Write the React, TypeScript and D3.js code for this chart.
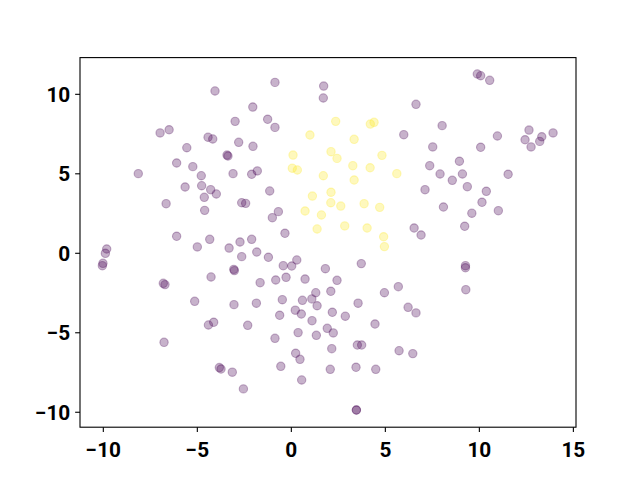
import React from 'react';
import { scaleLinear } from 'd3';

const svgWidth = 640;
const svgHeight = 480;

const margin = { left: 80, right: 64, top: 57.6, bottom: 52.8 };
const innerWidth = svgWidth - margin.left - margin.right;
const innerHeight = svgHeight - margin.top - margin.bottom;

// cluster 0 (purple)
const groupAX = [
  -4.06, -2.05, -2.99, -6.98, -6.5, -4.43, -4.18, -2.8, -2.04, -5.56, -3.42, -3.37, -6.1, -5.24, -8.14,
  -3.1, -2.11, -1.81, -4.79, -5.65, -4.77, -4.29, -3.99, -4.63, -6.66, -4.61, -2.64, -2.43, -6.1, -4.34,
  -2.73, -5.0, -3.31, -2.11, -0.87, 1.72, 1.7, -1.26, -0.87, 6.63, 5.98, -1.15, -0.69, -1.01, -0.34,
  6.53, 9.89, 10.07, 10.55, 8.02, 10.96, 12.64, 12.43, 12.75, 13.32, 13.21, 13.92, 7.52, 10.07, 8.94,
  7.36, 7.91, 9.1, 8.56, 11.53, 9.36, 7.11, 10.37, 10.14, 8.09, 9.6, 11.01, 9.22, 6.9, -9.82, -9.89,
  -10.02, -10.05, -2.64, -6.81, -6.72, -4.27, -3.06, -3.03, -5.14, -3.05, -4.41, -4.13, -2.32, -6.77,
  -3.83, -3.74, -3.14, -2.55, -1.84, -1.22, -0.43, 0.02, 0.29, 1.81, 3.72, -1.66, -0.83, -0.28, 0.73,
  2.43, 1.3, 2.1, 4.95, 5.69, -1.86, -0.48, 0.59, 1.09, 1.37, 3.55, 6.21, 6.63, -0.62, 0.21, 0.53, 2.18,
  2.87, 1.1, 4.45, 0.36, 1.33, 1.91, 2.23, -0.87, 2.15, 3.51, 3.74, 5.73, 6.46, 0.23, 0.46, -0.56, 2.07,
  3.44, 4.49, 0.55, 3.46, 3.46, 9.26, 9.26, 9.28,
];
const groupAY = [
  10.21, 9.2, 8.3, 7.57, 7.77, 7.3, 7.19, 6.98, 6.73, 6.64, 6.18, 6.12, 5.68, 5.45, 5.01, 5.01, 4.97,
  5.18, 4.88, 4.17, 4.25, 4.0, 3.73, 3.52, 3.12, 2.7, 3.18, 3.14, 1.07, 0.88, 0.71, 0.4, 0.33, 0.88,
  10.75, 10.52, 9.77, 8.43, 7.92, 9.37, 7.46, 3.92, 2.62, 2.24, 1.26, 1.59, 11.28, 11.17, 10.88, 8.03,
  7.38, 7.75, 7.14, 6.69, 7.33, 7.04, 7.57, 6.69, 6.67, 5.79, 5.51, 4.99, 4.99, 4.59, 4.97, 4.19, 4.0,
  3.9, 3.21, 2.91, 2.52, 2.68, 1.7, 1.15, 0.27, 0.0, -0.63, -0.78, -0.21, -1.89, -1.97, -1.49, -1.01,
  -1.09, -3.02, -3.23, -4.51, -4.34, -4.53, -5.6, -7.19, -7.28, -7.48, -8.53, 0.08, -0.25, -0.78, -0.8,
  -0.42, -0.97, -0.65, -1.85, -1.68, -1.51, -1.62, -1.7, -2.48, -2.39, -2.48, -2.1, -3.14, -2.92, -2.96,
  -2.87, -3.3, -3.14, -3.4, -3.75, -3.9, -3.58, -3.82, -3.71, -3.96, -4.24, -4.45, -4.99, -5.16, -4.72,
  -5.01, -5.35, -6.0, -5.77, -5.77, -6.13, -6.31, -6.29, -6.67, -7.11, -7.3, -7.17, -7.3, -7.97, -9.86,
  -9.86, -0.78, -0.91, -2.29,
];

// cluster 1 (yellow)
const groupBX = [
  2.36, 4.2, 4.4, 0.99, 3.34, 0.09, 2.11, 2.43, 4.82, 3.27, 4.19, 0.05, 0.32, 1.7, 5.61, 3.34, 2.11,
  1.12, 2.1, 2.63, 3.87, 4.7, 0.73, 1.6, 1.37, 2.84, 4.03, 4.91, 4.95,
];
const groupBY = [
  8.3, 8.13, 8.24, 7.44, 7.17, 6.18, 6.39, 5.97, 6.16, 5.51, 5.38, 5.35, 5.24, 4.88, 5.01, 4.61, 3.84,
  3.6, 3.18, 2.97, 3.12, 2.89, 2.66, 2.41, 1.53, 1.72, 1.59, 1.04, 0.42,
];

const xTicks = [-10, -5, 0, 5, 10, 15];
const yTicks = [-10, -5, 0, 5, 10];

const groups = [
  { xs: groupAX, ys: groupAY, color: '#440154' },
  { xs: groupBX, ys: groupBY, color: '#fde725' },
];

const xScale = scaleLinear().domain([-11.24, 15.14]).range([0, innerWidth]);
const yScale = scaleLinear().domain([-10.94, 12.31]).range([innerHeight, 0]);

const fmt = (v: number) => (v < 0 ? '\u2212' + Math.abs(v) : String(v));

const tickLen = 4.86;
const fontSize = 20.8;
const labelFont = 'Roboto, "DejaVu Sans", sans-serif';

export default function App() {
  return (
    <svg width={svgWidth} height={svgHeight} style={{ display: 'block', position: 'absolute', left: 0, top: 0 }}>
      <rect width={svgWidth} height={svgHeight} fill="#fff" />
      <g transform={`translate(${margin.left}, ${margin.top})`}>
        {groups.map((g, gi) =>
          g.xs.map((x, i) => (
            <circle
              key={gi + '-' + i}
              cx={xScale(x)}
              cy={yScale(g.ys[i])}
              r={4.17}
              fill={g.color}
              fillOpacity={0.3}
              stroke={g.color}
              strokeOpacity={0.3}
              strokeWidth={1.1}
            />
          ))
        )}
        <rect width={innerWidth} height={innerHeight} fill="none" stroke="#000" strokeWidth={1.1} />
        {xTicks.map((t) => (
          <g key={'x' + t} transform={`translate(${xScale(t)}, ${innerHeight})`}>
            <line y2={tickLen} stroke="#000" strokeWidth={1.1} />
            <text
              y={29.5}
              textAnchor="middle"
              fontFamily={labelFont}
              fontWeight="bold"
              fontSize={fontSize}
              fill="#000"
            >
              {fmt(t)}
            </text>
          </g>
        ))}
        {yTicks.map((t) => (
          <g key={'y' + t} transform={`translate(0, ${yScale(t)})`}>
            <line x2={-tickLen} stroke="#000" strokeWidth={1.1} />
            <text
              x={-tickLen - 4.86}
              y={7.6}
              textAnchor="end"
              fontFamily={labelFont}
              fontWeight="bold"
              fontSize={fontSize}
              fill="#000"
            >
              {fmt(t)}
            </text>
          </g>
        ))}
      </g>
    </svg>
  );
}
